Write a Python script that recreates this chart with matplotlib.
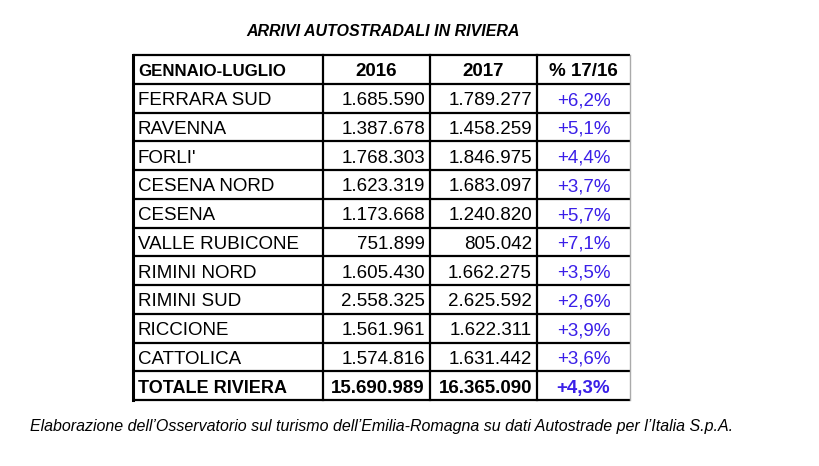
import matplotlib.pyplot as plt

# dati della tabella
caselli = ["FERRARA SUD", "RAVENNA", "FORLI'", "CESENA NORD", "CESENA", "VALLE RUBICONE",
           "RIMINI NORD", "RIMINI SUD", "RICCIONE", "CATTOLICA"]
arrivi_2016 = [1685590, 1387678, 1768303, 1623319, 1173668, 751899, 1605430, 2558325, 1561961, 1574816]
arrivi_2017 = [1789277, 1458259, 1846975, 1683097, 1240820, 805042, 1662275, 2625592, 1622311, 1631442]
variazione = ["+6,2%", "+5,1%", "+4,4%", "+3,7%", "+5,7%", "+7,1%", "+3,5%", "+2,6%", "+3,9%", "+3,6%"]
intestazione = ["GENNAIO-LUGLIO", "2016", "2017", "% 17/16"]
totale = ["TOTALE RIVIERA", "15.690.989", "16.365.090", "+4,3%"]

plt.rcParams['font.family'] = ['Liberation Sans', 'DejaVu Sans']
BLU = '#3a1fe8'


def fmt(n):  # separatore delle migliaia con il punto
    return f"{n:,}".replace(",", ".")


fig = plt.figure(figsize=(8.2, 4.66), dpi=100)
ax = fig.add_axes([0, 0, 1, 1])
ax.set_xlim(0, 820)
ax.set_ylim(466, 0)
ax.axis('off')

# griglia della tabella (coordinate in pixel)
xs = [133, 323, 430, 537, 630]
top, h = 55, 28.75
n_righe = len(caselli) + 2
bottom = top + n_righe * h

for i in range(n_righe + 1):
    y = top + i * h
    ax.plot([xs[0], xs[-1]], [y, y], color='black', lw=1.6, solid_capstyle='butt')
ax.plot([xs[0], xs[0]], [top, bottom], color='black', lw=2.2)
for x in xs[1:-1]:
    ax.plot([x, x], [top, bottom], color='black', lw=1.6)
ax.plot([xs[-1], xs[-1]], [top, bottom], color='#aaaaaa', lw=1)

fs = 13.5


def riga(i, valori, bold=False):
    y = top + (i + 0.5) * h + 2.5
    w = 'bold' if bold else 'normal'
    if bold and i == 0:
        ax.text(xs[0] + 5, y, valori[0], ha='left', va='center', fontsize=12.2, fontweight=w)
        ax.text((xs[1] + xs[2]) / 2, y, valori[1], ha='center', va='center', fontsize=fs, fontweight=w)
        ax.text((xs[2] + xs[3]) / 2, y, valori[2], ha='center', va='center', fontsize=fs, fontweight=w)
        ax.text((xs[3] + xs[4]) / 2, y, valori[3], ha='center', va='center', fontsize=fs, fontweight=w)
    else:
        ax.text(xs[0] + 5, y, valori[0], ha='left', va='center', fontsize=fs if not bold else 13,
                fontweight=w)
        ax.text(xs[2] - 5, y, valori[1], ha='right', va='center', fontsize=fs, fontweight=w)
        ax.text(xs[3] - 5, y, valori[2], ha='right', va='center', fontsize=fs, fontweight=w)
        ax.text((xs[3] + xs[4]) / 2, y, valori[3], ha='center', va='center', fontsize=fs,
                fontweight=w, color=BLU)


riga(0, intestazione, bold=True)
for k in range(len(caselli)):
    riga(k + 1, [caselli[k], fmt(arrivi_2016[k]), fmt(arrivi_2017[k]), variazione[k]])
riga(n_righe - 1, totale, bold=True)

ax.text(383, 31, "ARRIVI AUTOSTRADALI IN RIVIERA", ha='center', va='center',
        fontsize=11.5, fontweight='bold', fontstyle='italic')
ax.text(30, 426, "Elaborazione dell\u2019Osservatorio sul turismo dell\u2019Emilia-Romagna su dati "
        "Autostrade per l\u2019Italia S.p.A.", ha='left', va='center', fontsize=11.5, fontstyle='italic')

fig.savefig("out.png", dpi=100)
